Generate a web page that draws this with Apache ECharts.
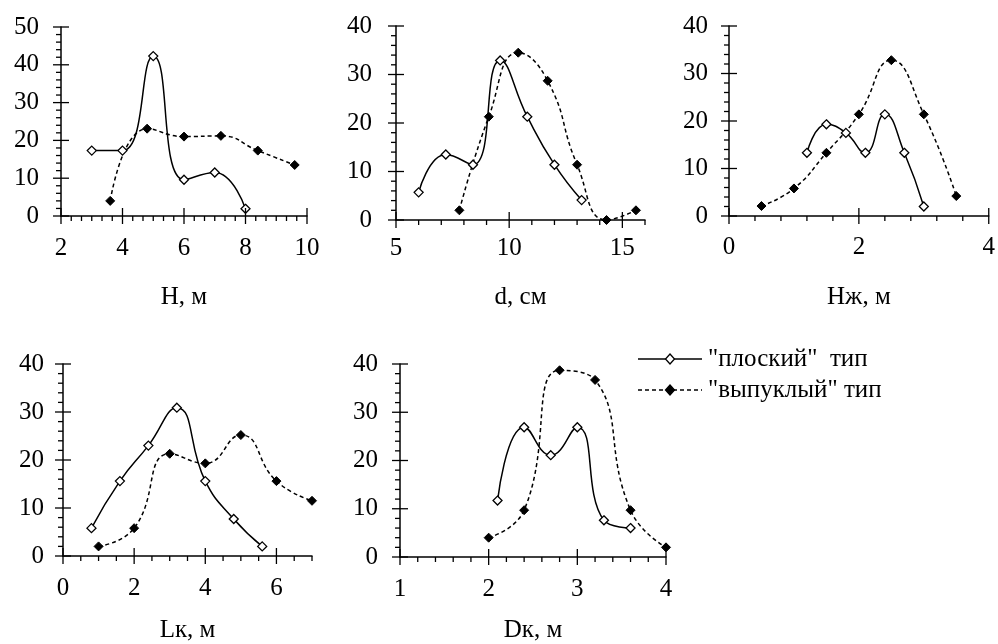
<!DOCTYPE html>
<html><head><meta charset="utf-8">
<script src="https://cdn.jsdelivr.net/npm/echarts@6/dist/echarts.min.js"></script>
<style>html,body{margin:0;padding:0;background:#fff}#c{width:998px;height:644px}</style>
</head><body><div id="c"></div>
<script>
// ---- data ----
const seriesNames = ['"плоский"  тип', '"выпуклый" тип'];
const axisTitles = ['H, м', 'd, см', 'Hж, м', 'Lк, м', 'Dк, м'];

const H_flat_x = [3, 4, 5, 6, 7, 8];
const H_flat_y = [17.3, 17.3, 42.3, 9.6, 11.5, 1.9];
const H_conv_x = [3.6, 4.8, 6.0, 7.2, 8.4, 9.6];
const H_conv_y = [4.0, 23.1, 21.0, 21.2, 17.3, 13.5];

const d_flat_x = [6, 7.2, 8.4, 9.6, 10.8, 12, 13.2];
const d_flat_y = [5.7, 13.5, 11.4, 32.9, 21.3, 11.4, 4.1];
const d_conv_x = [7.8, 9.1, 10.4, 11.7, 13.0, 14.3, 15.6];
const d_conv_y = [2.0, 21.3, 34.5, 28.7, 11.4, 0, 2.0];

const Hzh_flat_x = [1.2, 1.5, 1.8, 2.1, 2.4, 2.7, 3.0];
const Hzh_flat_y = [13.3, 19.3, 17.5, 13.3, 21.4, 13.3, 2.0];
const Hzh_conv_x = [0.5, 1.0, 1.5, 2.0, 2.5, 3.0, 3.5];
const Hzh_conv_y = [2.1, 5.8, 13.3, 21.4, 32.8, 21.4, 4.2];

const Lk_flat_x = [0.8, 1.6, 2.4, 3.2, 4.0, 4.8, 5.6];
const Lk_flat_y = [5.8, 15.6, 23.0, 30.9, 15.6, 7.7, 2.0];
const Lk_conv_x = [1, 2, 3, 4, 5, 6, 7];
const Lk_conv_y = [2.0, 5.8, 21.3, 19.3, 25.2, 15.6, 11.5];

const Dk_flat_x = [2.1, 2.4, 2.7, 3.0, 3.3, 3.6];
const Dk_flat_y = [11.7, 26.9, 21.1, 26.9, 7.6, 6.0];
const Dk_conv_x = [2.0, 2.4, 2.8, 3.2, 3.6, 4.0];
const Dk_conv_y = [4.0, 9.7, 38.7, 36.7, 9.7, 2.0];

// x axis scales: [min, max, major step, minor step]
const xScales = [[2, 10, 2, 1/3], [5, 16, 5, 1], [0, 4, 2, 0.4], [0, 7, 2, 0.5], [1, 4, 1, 0.2]];
// y axis scales: [min, max, major step, minor step]
const yScales = [[0, 50, 10, 2], [0, 40, 10, 2], [0, 40, 10, 2], [0, 40, 10, 2], [0, 40, 10, 2]];

// ---- layout ----
const FONT = 'Liberation Serif';
const FS = 25;
const layout = [
  {grid: {left: 61, top: 27, width: 246, height: 189}, xm: 20, ym: 22, gap: 69},
  {grid: {left: 396, top: 26, width: 249, height: 194}, xm: 16, ym: 24, gap: 65},
  {grid: {left: 729, top: 26, width: 260, height: 190}, xm: 19, ym: 21, gap: 69},
  {grid: {left: 63, top: 364, width: 249, height: 195}, xm: 20, ym: 19, gap: 62},
  {grid: {left: 400, top: 364, width: 266, height: 196}, xm: 20, ym: 22, gap: 61}
];
const panelData = [
  [[H_flat_x, H_flat_y], [H_conv_x, H_conv_y]],
  [[d_flat_x, d_flat_y], [d_conv_x, d_conv_y]],
  [[Hzh_flat_x, Hzh_flat_y], [Hzh_conv_x, Hzh_conv_y]],
  [[Lk_flat_x, Lk_flat_y], [Lk_conv_x, Lk_conv_y]],
  [[Dk_flat_x, Dk_flat_y], [Dk_conv_x, Dk_conv_y]]
];

function steps(a, b, s) {
  const n = Math.floor((b - a) / s + 1e-6);
  const out = [];
  for (let i = 0; i <= n; i++) out.push(+(a + i * s).toFixed(6));
  return out;
}
const isMajor = (v, a, s) => Math.abs((v - a) / s - Math.round((v - a) / s)) < 1e-4;
const zip = (xs, ys) => xs.map((x, i) => [x, ys[i]]);
const txt = () => ({fontFamily: FONT, fontSize: FS, color: '#000'});

const grids = [], xAxes = [], yAxes = [], series = [];
layout.forEach((L, gi) => {
  grids.push({left: L.grid.left, top: L.grid.top, width: L.grid.width, height: L.grid.height});
  const [xmin, xmax, xmaj, xmi] = xScales[gi];
  const [ymin, ymax, ymaj, ymi] = yScales[gi];
  const xMajors = steps(xmin, xmax, xmaj);
  const xLast = xMajors[xMajors.length - 1];
  const xl = txt();
  xl.margin = L.xm;
  xl.formatter = v => (isMajor(v, xmin, xmaj) && v <= xLast + 1e-6) ? String(Math.round(v * 100) / 100) : '';
  xAxes.push({
    gridIndex: gi, type: 'value', min: xmin, max: xmax, interval: xmi < xmaj && (xmax - xLast) > 1e-6 ? xmi : xmaj,
    position: 'bottom',
    axisLine: {show: true, onZero: false, lineStyle: {color: '#000', width: 1.5}},
    axisTick: {show: false},
    axisLabel: xl,
    splitLine: {show: false},
    name: axisTitles[gi], nameLocation: 'middle', nameGap: L.gap, nameTextStyle: txt()
  });
  const yl = txt();
  yl.margin = L.ym;
  yAxes.push({
    gridIndex: gi, type: 'value', min: ymin, max: ymax, interval: ymaj, position: 'left',
    axisLine: {show: true, onZero: false, lineStyle: {color: '#000', width: 1.5}},
    axisTick: {show: false},
    axisLabel: yl,
    splitLine: {show: false}
  });
  const [flat, conv] = panelData[gi];
  series.push({
    name: seriesNames[0], type: 'line', xAxisIndex: gi, yAxisIndex: gi,
    smooth: 0.5, symbol: 'diamond', symbolSize: 9,
    itemStyle: {color: '#fff', borderColor: '#000', borderWidth: 1.3},
    lineStyle: {color: '#000', width: 1.5},
    data: zip(flat[0], flat[1]), z: 3
  });
  series.push({
    name: seriesNames[1], type: 'line', xAxisIndex: gi, yAxisIndex: gi,
    smooth: 0.5, symbol: 'diamond', symbolSize: 9,
    itemStyle: {color: '#000', borderColor: '#000', borderWidth: 1},
    lineStyle: {color: '#000', width: 1.5, type: [4, 3]},
    data: zip(conv[0], conv[1]), z: 2
  });
  // axis tick marks, positioned through the axes' own scales
  const xTicks = steps(xmin, xmax, xmi).map(v => [v, ymin, isMajor(v, xmin, xmaj) && v <= xLast + 1e-6 ? 1 : 0]);
  const yTicks = steps(ymin, ymax, ymi).map(v => [xmin, v, isMajor(v, ymin, ymaj) ? 1 : 0]);
  series.push({
    type: 'custom', xAxisIndex: gi, yAxisIndex: gi, silent: true, clip: false, z: 5,
    data: xTicks,
    renderItem: (params, api) => {
      const p = api.coord([api.value(0), api.value(1)]);
      const major = api.value(2) === 1;
      return {type: 'line', shape: {x1: p[0], y1: major ? p[1] - 8 : p[1], x2: p[0], y2: p[1] + (major ? 8 : 5)},
              style: {stroke: '#000', lineWidth: 1.3}};
    }
  });
  series.push({
    type: 'custom', xAxisIndex: gi, yAxisIndex: gi, silent: true, clip: false, z: 5,
    data: yTicks,
    renderItem: (params, api) => {
      const p = api.coord([api.value(0), api.value(1)]);
      const major = api.value(2) === 1;
      return {type: 'line', shape: {x1: p[0] - (major ? 8 : 5), y1: p[1], x2: major ? p[0] + 8 : p[0], y2: p[1]},
              style: {stroke: '#000', lineWidth: 1.3}};
    }
  });
});

// legend drawn as graphic swatches + text
function diamond(cx, cy, fill) {
  return {type: 'polygon', shape: {points: [[cx, cy - 5], [cx + 4.5, cy], [cx, cy + 5], [cx - 4.5, cy]]},
          style: {fill: fill, stroke: '#000', lineWidth: 1.3}, z: 10};
}
const legendRows = [[359, null, '#fff'], [390, [4, 3], '#000']];
const graphics = [];
legendRows.forEach(([y, dash, fill], i) => {
  graphics.push({type: 'line', shape: {x1: 638, y1: y, x2: 702, y2: y},
                 style: {stroke: '#000', lineWidth: 1.5, lineDash: dash}, z: 10});
  graphics.push(diamond(670, y, fill));
  graphics.push({type: 'text', x: 708, y: y, z: 10,
                 style: {text: seriesNames[i], fontFamily: FONT, fontSize: FS, fill: '#000', verticalAlign: 'middle', align: 'left'}});
});

const chart = echarts.init(document.getElementById('c'));
chart.setOption({
  animation: false,
  grid: grids, xAxis: xAxes, yAxis: yAxes, series: series,
  graphic: graphics
});
</script></body></html>
